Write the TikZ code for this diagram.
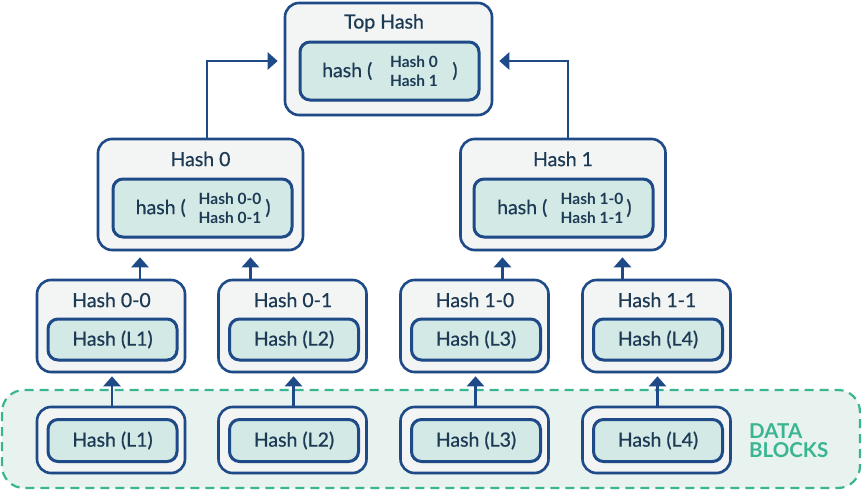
\documentclass[tikz,border=0pt]{standalone}
\usepackage{fontspec}
\setmainfont{Lato}
\newfontfamily\medfont{Lato}[FakeBold=0.7]
\usetikzlibrary{arrows.meta,shadows}
\definecolor{dblue}{HTML}{1F4A88}
\definecolor{txt}{HTML}{1D3A55}
\definecolor{outerfill}{HTML}{F3F5F4}
\definecolor{innerfill}{HTML}{D3E9E6}
\definecolor{regfill}{HTML}{E8F2EF}
\definecolor{teal}{HTML}{3AB592}
\tikzset{
  outerbox/.style={draw=dblue, line width=2.6pt, rounded corners=14pt, fill=outerfill,
    drop shadow={opacity=0.2, shadow xshift=1pt, shadow yshift=-1.5pt}, inner sep=0pt},
  innerbox/.style={draw=dblue, line width=3pt, rounded corners=10pt, fill=innerfill,
    drop shadow={opacity=0.25, shadow xshift=1pt, shadow yshift=-1.5pt}, inner sep=0pt,
    text=txt, font=\medfont\fontsize{19.5}{20}\selectfont},
  titletext/.style={text=txt, font=\medfont\fontsize{19.5}{20}\selectfont, inner sep=0pt},
  smalltext/.style={text=txt, font=\fontsize{15.5}{19}\selectfont\bfseries, align=center, inner sep=0pt},
  arr/.style={draw=dblue, line width=2.8pt, -{Triangle[length=10pt,width=17pt]}},
}
\begin{document}
\begin{tikzpicture}[x=1pt,y=-1pt]
\useasboundingbox (0,0) rectangle (863,490);
% data region
\draw[teal, fill=regfill, line width=2.2pt, dash pattern=on 9pt off 6pt, rounded corners=22pt] (2,390) rectangle (860,488);
\node[text=teal, font=\fontsize{20.5}{19}\selectfont\bfseries, align=left, anchor=west, inner sep=0pt] (dbl) at (749,441) {DATA\\BLOCKS};

% top hash
\node[outerbox, minimum width=207pt, minimum height=112pt] (top) at (388.5,59) {};
\node[titletext] (toptitle) at (384,23) {Top Hash};
\node[innerbox, minimum width=179pt, minimum height=58pt] (topin) at (389.5,71) {};
\node[titletext, anchor=west] (toph) at (322,71) {hash (};
\node[smalltext] (topargs) at (414,71) {Hash 0\\Hash 1};
\node[titletext] (topp) at (455,71) {)};

% hash 0 / hash 1
\foreach \n/\cx/\ix/\t/\a/\b in {h0/200.5/202.5/Hash 0/Hash 0-0/Hash 0-1, h1/563/563.5/Hash 1/Hash 1-0/Hash 1-1}{
  \node[outerbox, minimum width=205pt, minimum height=111pt] (\n) at (\cx,194.5) {};
  \node[titletext] (\n t) at (\cx,159) {\t};
  \node[innerbox, minimum width=179pt, minimum height=58pt] (\n in) at (\ix,208) {};
}
\node[titletext, anchor=west] (h0h) at (135.5,208) {hash (};
\node[smalltext] (h0args) at (230,208) {Hash 0-0\\Hash 0-1};
\node[titletext] (h0p) at (268,208) {)};
\node[titletext, anchor=west] (h1h) at (497,208) {hash (};
\node[smalltext] (h1args) at (592,208) {Hash 1-0\\Hash 1-1};
\node[titletext] (h1p) at (629,208) {)};

% level 2 and data blocks
\foreach \n/\cx/\t/\l in {n00/111/Hash 0-0/L1, n01/292.5/Hash 0-1/L2, n10/474.5/Hash 1-0/L3, n11/656.5/Hash 1-1/L4}{
  \node[outerbox, minimum width=148pt, minimum height=92pt] (\n) at (\cx,326) {};
  \node[titletext] (\n t) at (\cx+0.5,300) {\t};
  \node[innerbox, minimum width=129pt, minimum height=41pt] (\n in) at (\cx+1.5,339.5) {Hash (\l)};
  \node[outerbox, minimum width=148pt, minimum height=66pt] (\n d) at (\cx,440) {};
  \node[innerbox, minimum width=129pt, minimum height=42pt] (\n din) at (\cx+1.5,440.5) {Hash (\l)};
  \draw[arr, shorten >=3pt] ([xshift=1pt]\n d.north) -- ([xshift=1pt]\n d.north |- \n.south);
}

% level2 -> level1
\draw[arr, shorten >=6pt] ([xshift=29pt]n00.north) -- ([xshift=29pt]n00.north |- h0.south);
\draw[arr, shorten >=6pt] ([xshift=-42pt]n01.north) -- ([xshift=-42pt]n01.north |- h0.south);
\draw[arr, shorten >=6pt] ([xshift=28pt]n10.north) -- ([xshift=28pt]n10.north |- h1.south);
\draw[arr, shorten >=6pt] ([xshift=-34pt]n11.north) -- ([xshift=-34pt]n11.north |- h1.south);

% level1 -> top
\draw[arr, shorten >=6pt] ([xshift=6.5pt]h0.north) |- ([yshift=-2pt]top.west);
\draw[arr, shorten >=6pt] ([xshift=5pt]h1.north) |- ([yshift=-2pt]top.east);
\end{tikzpicture}
\end{document}
